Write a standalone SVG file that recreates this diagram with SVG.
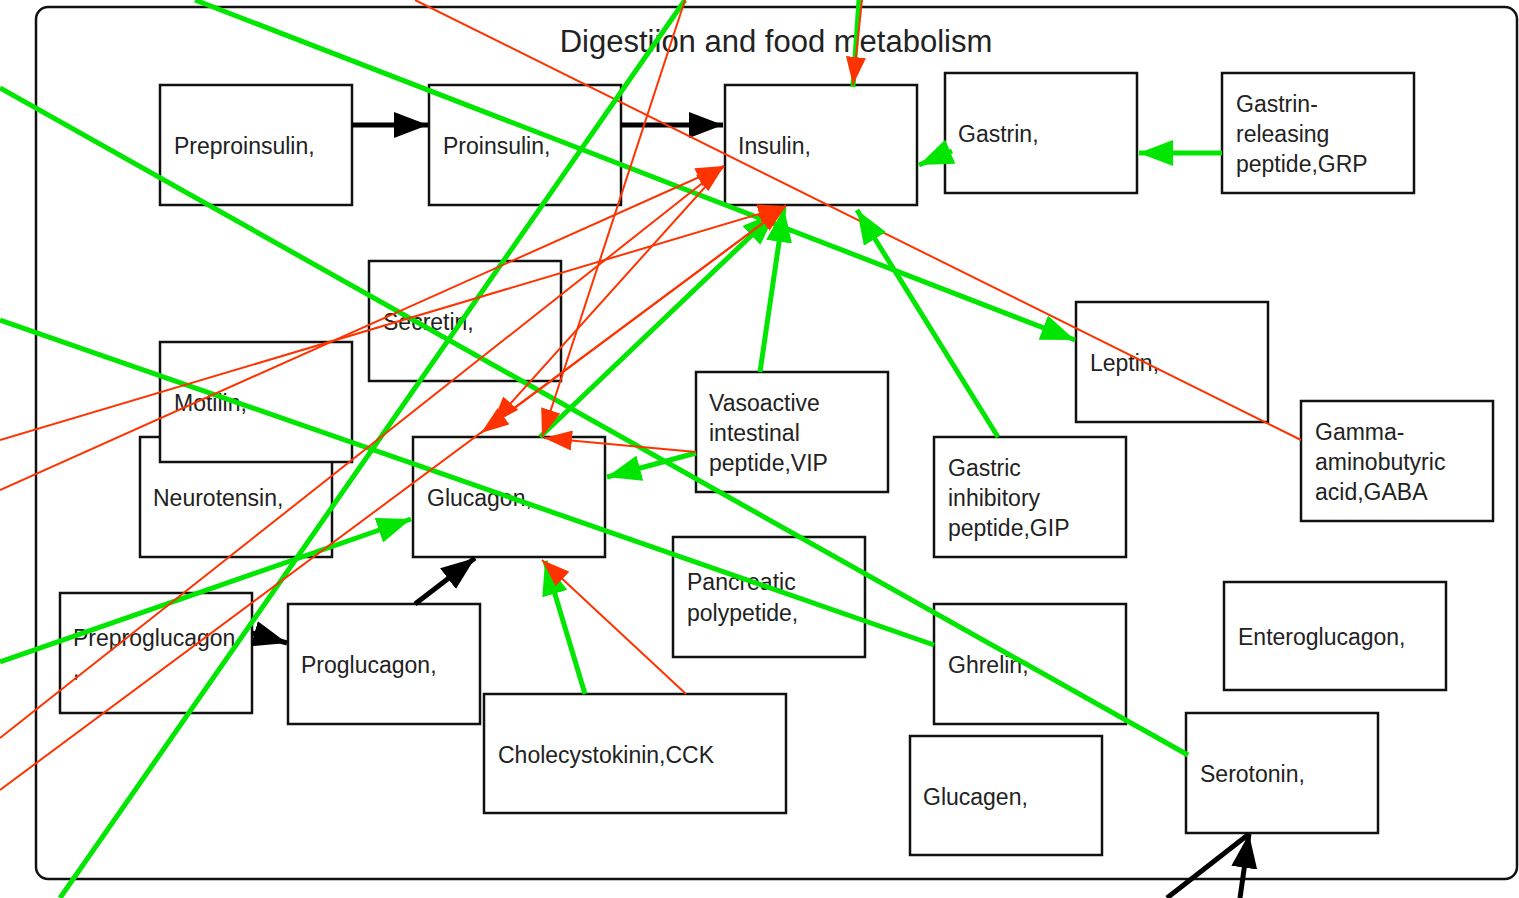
<svg xmlns="http://www.w3.org/2000/svg" width="1519" height="898" viewBox="0 0 1519 898">
<style>
.bg{fill:#fff}
.frame{fill:none;stroke:#111;stroke-width:2.5}
.box{fill:#fff;stroke:#111;stroke-width:2.5}
.t{font-family:"Liberation Sans",Arial,sans-serif;font-size:23px;fill:#222}
.title{font-family:"Liberation Sans",Arial,sans-serif;font-size:31px;fill:#222;text-anchor:middle}
.k{stroke:#000;stroke-width:5;fill:none}
.g{stroke:#00e600;stroke-width:5;fill:none}
.r{stroke:#ff3300;stroke-width:2;fill:none}
.ka{marker-end:url(#ak)}
.ga{marker-end:url(#ag)}
.ra{marker-end:url(#ar)}
</style>
<defs>
<marker id="ak" markerUnits="userSpaceOnUse" markerWidth="34" markerHeight="26" refX="34" refY="13" orient="auto"><path d="M0,0 L34,13 L0,26 z" fill="#000"/></marker>
<marker id="ag" markerUnits="userSpaceOnUse" markerWidth="34" markerHeight="26" refX="34" refY="13" orient="auto"><path d="M0,0 L34,13 L0,26 z" fill="#00e600"/></marker>
<marker id="ar" markerUnits="userSpaceOnUse" markerWidth="28" markerHeight="20" refX="28" refY="10" orient="auto"><path d="M0,0 L28,10 L0,20 z" fill="#ff3300"/></marker>
</defs>
<rect class="bg" x="0" y="0" width="1519" height="898"/>
<g id="container">
<rect class="frame" x="36" y="7" width="1481" height="872" rx="12"/>
<text class="title" x="776" y="52">Digestiion and food metabolism</text>
</g>
<g id="n-preproinsulin"><rect class="box" x="160" y="85" width="192" height="120"/><text class="t" x="174" y="154">Preproinsulin,</text></g>
<g id="n-proinsulin"><rect class="box" x="429" y="85" width="192" height="120"/><text class="t" x="443" y="154">Proinsulin,</text></g>
<g id="n-insulin"><rect class="box" x="725" y="85" width="192" height="120"/><text class="t" x="738" y="154">Insulin,</text></g>
<g id="n-gastrin"><rect class="box" x="945" y="73" width="192" height="120"/><text class="t" x="958" y="142">Gastrin,</text></g>
<g id="n-grp"><rect class="box" x="1222" y="73" width="192" height="120"/><text class="t" x="1236" y="112">Gastrin-</text><text class="t" x="1236" y="142">releasing</text><text class="t" x="1236" y="172">peptide,GRP</text></g>
<g id="n-secretin"><rect class="box" x="369" y="261" width="192" height="120"/><text class="t" x="383" y="330">Secretin,</text></g>
<g id="n-neurotensin"><rect class="box" x="140" y="437" width="192" height="120"/><text class="t" x="153" y="506">Neurotensin,</text></g>
<g id="n-motilin"><rect class="box" x="160" y="342" width="192" height="120"/><text class="t" x="174" y="411">Motilin,</text></g>
<g id="n-glucagon"><rect class="box" x="413" y="437" width="192" height="120"/><text class="t" x="427" y="506">Glucagon,</text></g>
<g id="n-vip"><rect class="box" x="696" y="372" width="192" height="120"/><text class="t" x="709" y="411">Vasoactive</text><text class="t" x="709" y="441">intestinal</text><text class="t" x="709" y="471">peptide,VIP</text></g>
<g id="n-leptin"><rect class="box" x="1076" y="302" width="192" height="120"/><text class="t" x="1090" y="371">Leptin,</text></g>
<g id="n-gip"><rect class="box" x="934" y="437" width="192" height="120"/><text class="t" x="948" y="476">Gastric</text><text class="t" x="948" y="506">inhibitory</text><text class="t" x="948" y="536">peptide,GIP</text></g>
<g id="n-gaba"><rect class="box" x="1301" y="401" width="192" height="120"/><text class="t" x="1315" y="440">Gamma-</text><text class="t" x="1315" y="470">aminobutyric</text><text class="t" x="1315" y="500">acid,GABA</text></g>
<g id="n-pp"><rect class="box" x="673" y="537" width="192" height="120"/><text class="t" x="687" y="590">Pancreatic</text><text class="t" x="687" y="621">polypetide,</text></g>
<g id="n-preproglucagon"><rect class="box" x="60" y="593" width="192" height="120"/><text class="t" x="73" y="646">Preproglucagon</text><text class="t" x="73" y="677">,</text></g>
<g id="n-proglucagon"><rect class="box" x="288" y="604" width="192" height="120"/><text class="t" x="301" y="673">Proglucagon,</text></g>
<g id="n-cck"><rect class="box" x="484" y="694" width="302" height="119"/><text class="t" x="498" y="763">Cholecystokinin,CCK</text></g>
<g id="n-ghrelin"><rect class="box" x="934" y="604" width="192" height="120"/><text class="t" x="948" y="673">Ghrelin,</text></g>
<g id="n-enteroglucagon"><rect class="box" x="1224" y="582" width="222" height="108"/><text class="t" x="1238" y="645">Enteroglucagon,</text></g>
<g id="n-glucagen"><rect class="box" x="910" y="736" width="192" height="119"/><text class="t" x="923" y="805">Glucagen,</text></g>
<g id="n-serotonin"><rect class="box" x="1186" y="713" width="192" height="120"/><text class="t" x="1200" y="782">Serotonin,</text></g>
<g id="connectors">
<line class="k ka" x1="352" y1="125" x2="428" y2="125"/>
<line class="k ka" x1="621" y1="125" x2="723" y2="125"/>
<line class="k ka" x1="252" y1="633" x2="287" y2="643"/>
<line class="k ka" x1="415" y1="604" x2="475" y2="558"/>
<line class="k" x1="1167" y1="898" x2="1249" y2="834"/>
<line class="k ka" x1="1240" y1="898" x2="1249" y2="834"/>
<line class="r" x1="415" y1="0" x2="1301" y2="440"/>
<line class="g ga" x1="195" y1="0" x2="1075" y2="340"/>
<line class="g" x1="0" y1="88" x2="1188" y2="755"/>
<line class="g" x1="0" y1="320" x2="934" y2="645"/>
<line class="g ga" x1="0" y1="662" x2="411" y2="519"/>
<line class="g" x1="685" y1="0" x2="60" y2="898"/>
<line class="g ga" x1="760" y1="372" x2="784" y2="208"/>
<line class="g ga" x1="998" y1="437" x2="857" y2="210"/>
<line class="g ga" x1="540" y1="437" x2="776" y2="212"/>
<line class="g ga" x1="696" y1="453" x2="607" y2="477"/>
<line class="g ga" x1="1222" y1="153" x2="1139" y2="153"/>
<line class="g ga" x1="952" y1="151" x2="919" y2="165"/>
<line class="g" x1="859" y1="0" x2="853" y2="87"/>
<line class="g ga" x1="585" y1="694" x2="545" y2="561"/>
<line class="r ra" x1="685" y1="0" x2="542" y2="437"/>
<line class="r ra" x1="862" y1="0" x2="853" y2="85"/>
<line class="r ra" x1="0" y1="440" x2="786" y2="206"/>
<line class="r ra" x1="0" y1="490" x2="724" y2="166"/>
<line class="r ra" x1="0" y1="738" x2="724" y2="166"/>
<line class="r ra" x1="0" y1="790" x2="786" y2="206"/>
<line class="r ra" x1="724" y1="166" x2="492" y2="424"/>
<line class="r ra" x1="786" y1="206" x2="481" y2="433"/>
<line class="r ra" x1="696" y1="452" x2="544" y2="438"/>
<line class="r ra" x1="686" y1="694" x2="542" y2="560"/>
</g>
</svg>
